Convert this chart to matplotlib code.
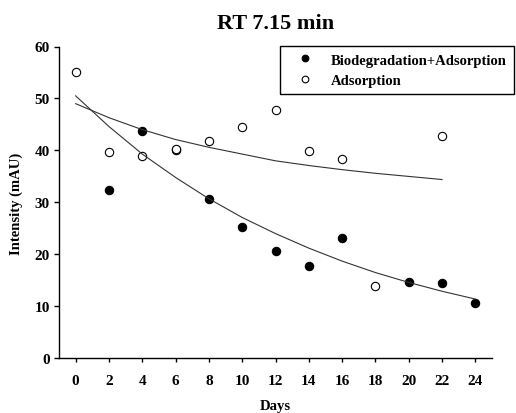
import matplotlib
matplotlib.use("Agg")
import matplotlib.pyplot as plt

plt.rcParams['font.family'] = ['Liberation Serif', 'DejaVu Serif']
plt.rcParams['font.weight'] = 'bold'

# Data
bio_days = [2, 4, 6, 8, 10, 12, 14, 16, 20, 22, 24]
bio_vals = [32.3, 43.7, 40.0, 30.7, 25.2, 20.7, 17.7, 23.1, 14.7, 14.4, 10.7]

ads_days = [0, 2, 4, 6, 8, 10, 12, 14, 16, 18, 22]
ads_vals = [55.1, 39.7, 39.0, 40.3, 41.8, 44.5, 47.7, 39.8, 38.4, 13.9, 42.7]

# Fitted curves
bio_fit_days = [0, 2, 4, 6, 8, 10, 12, 14, 16, 18, 20, 22, 24]
bio_fit_vals = [50.5, 44.6, 39.3, 34.8, 30.7, 27.1, 24.0, 21.2, 18.7, 16.5, 14.6, 12.9, 11.4]

ads_fit_days = [0, 2, 4, 6, 8, 10, 12, 14, 16, 18, 20, 22]
ads_fit_vals = [49.0, 46.3, 44.0, 42.1, 40.6, 39.3, 38.0, 37.1, 36.3, 35.6, 35.0, 34.4]

x_ticks = list(range(0, 25, 2))
y_ticks = list(range(0, 61, 10))

fig = plt.figure(figsize=(5.16, 4.14), dpi=100)
ax = fig.add_axes([59/516, 1 - 359.3/414, (492 - 59)/516, (359.3 - 47.5)/414])

ax.plot(bio_days, bio_vals, 'o', color='black', markersize=6, markeredgewidth=0.8,
        label='Biodegradation+Adsorption', zorder=2)
ax.plot(ads_days, ads_vals, 'o', markerfacecolor='white', markeredgecolor='black',
        markersize=6, markeredgewidth=0.8, label='Adsorption', zorder=2.5)
ax.plot(bio_fit_days, bio_fit_vals, '-', color='#333333', linewidth=0.8, zorder=3)
ax.plot(ads_fit_days, ads_fit_vals, '-', color='#333333', linewidth=0.8, zorder=3)

ax.set_xlim(-1, 25)
ax.set_ylim(0, 60)
ax.set_xticks(x_ticks)
ax.set_yticks(y_ticks)
ax.spines['top'].set_visible(False)
ax.spines['right'].set_visible(False)
ax.spines['left'].set_linewidth(1.0)
ax.spines['bottom'].set_linewidth(1.0)
ax.tick_params(axis='x', direction='out', length=3, width=1, pad=8, labelsize=11)
ax.tick_params(axis='y', direction='out', length=3.5, width=1, pad=3, labelsize=11)
for lab in ax.get_xticklabels() + ax.get_yticklabels():
    lab.set_fontweight('bold')

ax.set_title('RT 7.15 min', fontsize=16, fontweight='bold', pad=13)
ax.set_xlabel('Days', fontsize=10.5, fontweight='bold', labelpad=9)
ax.set_ylabel('Intensity (mAU)', fontsize=10.5, fontweight='bold', labelpad=8)

leg = fig.legend(loc='upper left', bbox_to_anchor=(280/516, 1 - 47/414),
                 borderaxespad=0, borderpad=0.5, handlelength=2.4, handletextpad=0.58,
                 labelspacing=0.5, markerscale=0.8, fancybox=False, framealpha=1,
                 edgecolor='black', prop={'weight': 'bold', 'size': 10.5})
leg.get_frame().set_linewidth(1.0)

fig.savefig('out.png', dpi=100)
